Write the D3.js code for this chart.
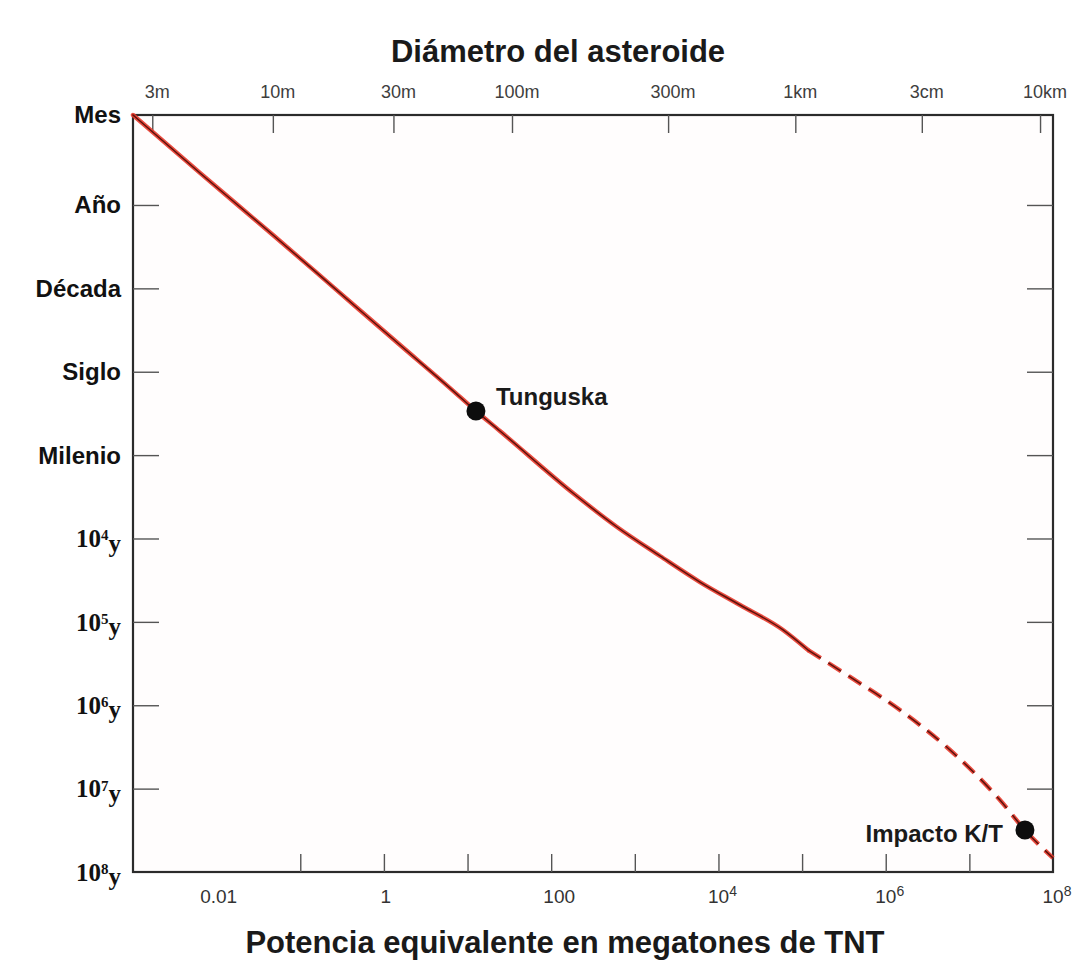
<!DOCTYPE html>
<html>
<head>
<meta charset="utf-8">
<script src="https://cdn.jsdelivr.net/npm/d3@7"></script>
<style>
  body { margin: 0; background: #ffffff; }
  svg { display: block; }
</style>
</head>
<body>
<svg id="chart" width="1086" height="966"></svg>
<script>
// ---- Data -------------------------------------------------------------
// Impact energy (megatons of TNT) vs. typical interval between impacts (years).
// Solid part: well-established frequency; dashed part: extrapolation.
const solidEnergy   = [0.001, 0.00632, 0.0472, 0.246, 1.56, 6.17, 12.6, 24.4, 182, 612, 2000, 6010, 18100, 59200, 118000];
const solidInterval = [1/12, 0.413, 2.29, 9.6, 47.8, 157, 296, 514, 2850, 7280, 16200, 33300, 62800, 125000, 218000];
const dashedEnergy   = [118000, 374000, 1.48e6, 5.87e6, 2.32e7, 4.62e7, 1.0e8];
const dashedInterval = [218000, 458000, 1.14e6, 3.44e6, 1.37e7, 3.14e7, 6.79e7];

// Named events
const eventNames    = ["Tunguska", "Impacto K/T"];
const eventEnergy   = [12.6, 4.62e7];
const eventInterval = [296, 3.14e7];

// Bottom axis: energy in megatons
const energyDomain    = [0.001, 1e8];
const energyTickVals  = [0.1, 1, 10, 100, 1e3, 1e4, 1e5, 1e6, 1e7];
const energyLabelVals = [0.01, 1, 100, 1e4, 1e6, 1e8];
const energyLabelBase = ["0.01", "1", "100", "10", "10", "10"];
const energyLabelExp  = ["", "", "", "4", "6", "8"];

// Top axis: asteroid diameter and its equivalent energy
const diameterLabels = ["3m", "10m", "30m", "100m", "300m", "1km", "3cm", "10km"];
const diameterEnergy = [0.0017, 0.047, 1.3, 34, 2500, 8.3e4, 2.7e6, 7e7];

// Vertical axis: interval between impacts (years)
const intervalDomain = [1/12, 1e8];
const intervalVals   = [1/12, 1, 10, 100, 1000, 1e4, 1e5, 1e6, 1e7, 1e8];
const intervalWords  = ["Mes", "Año", "Década", "Siglo", "Milenio", "", "", "", "", ""];
const intervalExp    = ["", "", "", "", "", "4", "5", "6", "7", "8"];

// ---- Layout -----------------------------------------------------------
const svg = d3.select("#chart");
const plotL = 133, plotR = 1053, plotT = 115, plotB = 872;

const x = d3.scaleLog().domain(energyDomain).range([plotL, plotR]);
const y = d3.scaleLog().domain(intervalDomain).range([plotT, plotB]);

const axisColor = "#2b2b2b";

// plot frame
svg.append("rect")
  .attr("x", plotL).attr("y", plotT)
  .attr("width", plotR - plotL).attr("height", plotB - plotT)
  .attr("fill", "#fffdfd")
  .attr("stroke", axisColor).attr("stroke-width", 2.2);

function styleAxis(g) {
  g.select(".domain").remove();
  g.selectAll(".tick line").attr("stroke", "#555").attr("stroke-width", 1.4);
  g.selectAll(".tick text").remove();
}

// inward ticks on all four sides
svg.append("g").attr("transform", `translate(0,${plotB})`)
  .call(d3.axisBottom(x).tickValues(energyTickVals).tickSize(-18).tickFormat(""))
  .call(styleAxis);
svg.append("g").attr("transform", `translate(0,${plotT})`)
  .call(d3.axisTop(x).tickValues(diameterEnergy).tickSize(-18).tickFormat(""))
  .call(styleAxis);
svg.append("g").attr("transform", `translate(${plotL},0)`)
  .call(d3.axisLeft(y).tickValues(intervalVals.slice(1, -1)).tickSize(-26).tickFormat(""))
  .call(styleAxis);
svg.append("g").attr("transform", `translate(${plotR},0)`)
  .call(d3.axisRight(y).tickValues(intervalVals.slice(1, -1)).tickSize(-26).tickFormat(""))
  .call(styleAxis);

// top tick labels (diameter)
svg.append("g").selectAll("text")
  .data(diameterLabels)
  .join("text")
  .attr("x", (d, i) => x(diameterEnergy[i]) + 5)
  .attr("y", 98)
  .attr("text-anchor", "middle")
  .attr("font-family", "Liberation Sans, Arial, sans-serif")
  .attr("font-size", 18)
  .attr("fill", "#3e3e3e")
  .text(d => d);

// bottom tick labels (energy)
const bl = svg.append("g").selectAll("text")
  .data(energyLabelVals)
  .join("text")
  .attr("x", (d, i) => x(d) + (energyLabelExp[i] ? 4 : (i === 2 ? 8 : 2)))
  .attr("y", 903)
  .attr("text-anchor", "middle")
  .attr("font-family", "Liberation Sans, Arial, sans-serif")
  .attr("font-size", 19)
  .attr("fill", "#333");
bl.append("tspan").text((d, i) => energyLabelBase[i]);
bl.append("tspan")
  .attr("dy", "-0.5em").attr("font-size", 14)
  .text((d, i) => energyLabelExp[i]);

// vertical axis labels
const yl = svg.append("g").selectAll("text")
  .data(intervalVals)
  .join("text")
  .attr("x", 121)
  .attr("y", d => y(d))
  .attr("dy", "0.35em")
  .attr("text-anchor", "end")
  .attr("font-weight", "bold")
  .attr("fill", "#111")
  .attr("font-family", (d, i) => intervalWords[i]
        ? "Liberation Sans, Arial, sans-serif"
        : "Liberation Serif, Times New Roman, serif")
  .attr("font-size", (d, i) => intervalWords[i] ? 24 : 25);
yl.filter((d, i) => intervalWords[i] !== "")
  .text(d => intervalWords[intervalVals.indexOf(d)]);
const ynum = yl.filter((d, i) => intervalWords[i] === "");
ynum.append("tspan").text("10");
ynum.append("tspan").attr("dy", "-0.45em").attr("font-size", 15)
  .text(d => intervalExp[intervalVals.indexOf(d)]);
ynum.append("tspan").attr("dy", "0.45em").text("y");

// ---- Curve ------------------------------------------------------------
const line = d3.line()
  .x(d => x(d[0]))
  .y(d => y(d[1]))
  .curve(d3.curveMonotoneX);

const solidPts  = solidEnergy.map((e, i) => [e, solidInterval[i]]);
const dashedPts = dashedEnergy.map((e, i) => [e, dashedInterval[i]]);

const curveG = svg.append("g");
// red halo under a dark red core
curveG.append("path").datum(solidPts).attr("d", line)
  .attr("fill", "none").attr("stroke", "#e8392b").attr("stroke-width", 4.4)
  .attr("stroke-opacity", 0.9).attr("stroke-linecap", "round");
curveG.append("path").datum(solidPts).attr("d", line)
  .attr("fill", "none").attr("stroke", "#5c130c").attr("stroke-width", 1.5)
  .attr("stroke-linecap", "round");
curveG.append("path").datum(dashedPts).attr("d", line)
  .attr("fill", "none").attr("stroke", "#e8392b").attr("stroke-width", 4.4)
  .attr("stroke-opacity", 0.9).attr("stroke-dasharray", "15,9");
curveG.append("path").datum(dashedPts).attr("d", line)
  .attr("fill", "none").attr("stroke", "#5c130c").attr("stroke-width", 1.5)
  .attr("stroke-dasharray", "15,9");

// ---- Events -----------------------------------------------------------
svg.append("g").selectAll("circle")
  .data(eventNames)
  .join("circle")
  .attr("cx", (d, i) => x(eventEnergy[i]))
  .attr("cy", (d, i) => y(eventInterval[i]))
  .attr("r", 9.5)
  .attr("fill", "#0d0d0d");

svg.append("g").selectAll("text")
  .data(eventNames)
  .join("text")
  .attr("x", (d, i) => i === 0 ? x(eventEnergy[i]) + 20 : x(eventEnergy[i]) - 22)
  .attr("y", (d, i) => y(eventInterval[i]) + (i === 0 ? -6 : 12))
  .attr("text-anchor", (d, i) => i === 0 ? "start" : "end")
  .attr("font-family", "Liberation Sans, Arial, sans-serif")
  .attr("font-weight", "bold")
  .attr("font-size", 24)
  .attr("fill", "#1a1a1a")
  .text(d => d);

// ---- Titles -----------------------------------------------------------
svg.append("text")
  .attr("x", 558).attr("y", 62)
  .attr("text-anchor", "middle")
  .attr("font-family", "Liberation Sans, Arial, sans-serif")
  .attr("font-weight", "bold").attr("font-size", 31)
  .attr("fill", "#1a1a1a")
  .text("Diámetro del asteroide");

svg.append("text")
  .attr("x", 565).attr("y", 953)
  .attr("text-anchor", "middle")
  .attr("font-family", "Liberation Sans, Arial, sans-serif")
  .attr("font-weight", "bold").attr("font-size", 31)
  .attr("fill", "#1a1a1a")
  .text("Potencia equivalente en megatones de TNT");
</script>
</body>
</html>
